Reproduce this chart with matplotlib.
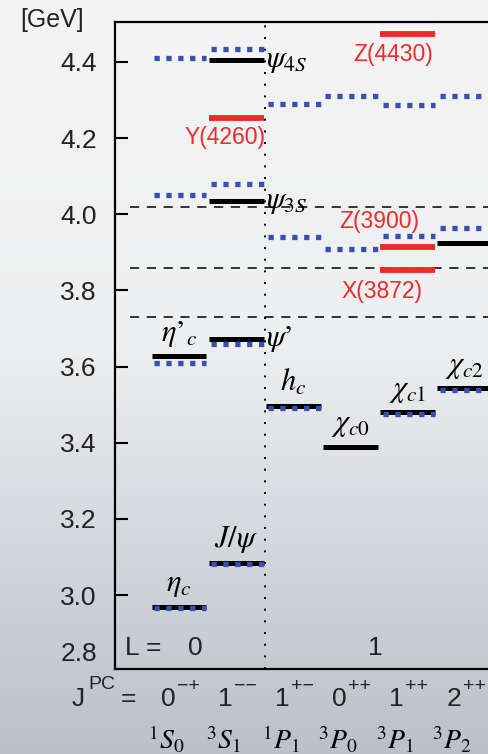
import numpy as np
import matplotlib
matplotlib.use("Agg")
import matplotlib.pyplot as plt
from matplotlib.colors import LinearSegmentedColormap

plt.rcParams['font.family'] = ['Liberation Sans', 'DejaVu Sans']
plt.rcParams['mathtext.fontset'] = 'stix'

# columns: 1S0, 3S1, 1P1, 3P0, 3P1, 3P2
jpc_base = ["0", "1", "1", "0", "1", "2"]
jpc_sup = ["\u2212+", "\u2212\u2212", "+\u2212", "++", "++", "++"]
spec = [r"${}^1S_0$", r"${}^3S_1$", r"${}^1P_1$", r"${}^3P_0$", r"${}^3P_1$", r"${}^3P_2$"]

# measured states (black)
exp_col = [0, 0, 1, 1, 1, 1, 2, 3, 4, 5, 5]
exp_mass = [2.970, 3.627, 3.085, 3.672, 4.035, 4.404, 3.497, 3.389, 3.480, 3.543, 3.924]

# model predictions (blue)
th_col = [0, 0, 0, 0, 1, 1, 1, 1, 2, 2, 2, 3, 3, 4, 4, 4, 5, 5, 5]
th_mass = [2.966, 3.609, 4.051, 4.410, 3.081, 3.660, 4.079, 4.435,
           3.492, 3.941, 4.290, 3.908, 4.311, 3.476, 3.942, 4.287, 3.538, 3.964, 4.311]

# exotic states (red)
xyz_col = [1, 4, 4, 4]
xyz_mass = [4.253, 3.855, 3.915, 4.474]
xyz_name = ["Y(4260)", "X(3872)", "Z(3900)", "Z(4430)"]

# open-charm thresholds
thresholds = [3.730, 3.860, 4.020]

# state names
names = [r"$\eta_c$", r"$\eta\mathrm{’}_c$", r"$J/\psi$", r"$h_c$", r"$\chi_{c0}$", r"$\chi_{c1}$", r"$\chi_{c2}$"]
name_col = [0, 0, 1, 2, 3, 4, 5]
name_mass = [2.970, 3.627, 3.085, 3.497, 3.389, 3.480, 3.543]
psi_names = [r"$\psi\mathrm{’}$", r"$\psi_{3S}$", r"$\psi_{4S}$"]
psi_mass = [3.672, 4.035, 4.404]

yticks = [3.0, 3.2, 3.4, 3.6, 3.8, 4.0, 4.2, 4.4]

INK = "#222222"
RED = "#ee2a2a"
BLUE = "#3a50b0"

fig = plt.figure(figsize=(4.89, 7.54), dpi=100)

# background gradient
bg = fig.add_axes([0, 0, 1, 1], zorder=-10)
cmap = LinearSegmentedColormap.from_list(
    "bg", [(0, "#bbc0c9"), (0.3, "#d6d9de"), (0.55, "#eeeff0"), (1, "#f4f4f4")])
grad = np.linspace(0, 1, 256).reshape(-1, 1)
bg.imshow(grad, aspect="auto", cmap=cmap, origin="lower", extent=[0, 1, 0, 1])
bg.axis("off")

ax = fig.add_axes([115 / 489, 85 / 754, 407 / 489, 647 / 754])
ax.patch.set_alpha(0)
ax.set_xlim(-1.119, 6.0)
ax.set_ylim(2.806, 4.505)

hw = 0.48
for c, m in zip(exp_col, exp_mass):
    ax.plot([c - hw, c + hw], [m, m], color="black", lw=3.6, solid_capstyle="butt", zorder=3)
for c, m in zip(th_col, th_mass):
    ax.plot([c - hw + 0.04, c + hw], [m, m], color=BLUE, lw=3.8,
            dashes=[1, 1.25], dash_capstyle="butt", zorder=4)

# label placement for the exotic states: (dx, dy) from the level
label_off = {"Y(4260)": (-0.2, -0.052), "X(3872)": (-0.45, -0.058),
             "Z(3900)": (-0.5, 0.065), "Z(4430)": (-0.25, -0.055)}
for c, m, n in zip(xyz_col, xyz_mass, xyz_name):
    ax.plot([c - hw, c + hw], [m, m], color=RED, lw=4.2, solid_capstyle="butt", zorder=3)
    dx, dy = label_off[n]
    ax.text(c + dx, m + dy, n, color=RED, fontsize=16.5, ha="center", va="center", zorder=5)

for t in thresholds:
    ax.plot([-0.85, 6.0], [t, t], color="black", lw=1.1, dashes=[6, 5], zorder=2)

ax.axvline(1.5, color="black", lw=1.4, dashes=[1, 5], zorder=2)

for n, c, m in zip(names, name_col, name_mass):
    ax.text(c, m + 0.02, n, fontsize=22, ha="center", va="bottom", zorder=5)
for n, m in zip(psi_names, psi_mass):
    ax.text(1.52, m, n, fontsize=22, ha="left", va="center", zorder=5)

ax.text(-0.95, 2.86, "L =", fontsize=19, color=INK, va="center")
ax.text(0.28, 2.86, "0", fontsize=19, color=INK, va="center", ha="center")
ax.text(3.44, 2.86, "1", fontsize=19, color=INK, va="center", ha="center")

ax.set_yticks(yticks)
ax.set_yticklabels([f"{v:.1f}" for v in yticks])
ax.set_xticks([])
ax.tick_params(axis="y", direction="in", length=9.5, width=1.5, pad=13,
               labelsize=19, labelcolor=INK)
for s in ["left", "top", "bottom", "right"]:
    ax.spines[s].set_linewidth(1.6)
ax.text(-1.43, 2.845, "2.8", fontsize=19, color=INK, ha="right", va="center", clip_on=False)
ax.text(-2.22, 4.51, "[GeV]", fontsize=18, color=INK, ha="center", va="center", clip_on=False)

# quantum numbers under the axis
jrow = 2.728
ax.text(-1.64, jrow, "J", fontsize=19, color=INK, ha="right", va="center", clip_on=False)
ax.text(-1.58, jrow + 0.038, "PC", fontsize=14, color=INK, ha="left", va="center", clip_on=False)
ax.text(-0.89, jrow, "=", fontsize=19, color=INK, ha="center", va="center", clip_on=False)
for i in range(6):
    ax.text(i - 0.19, jrow, jpc_base[i], fontsize=19, color=INK, ha="center", va="center", clip_on=False)
    ax.text(i - 0.04, jrow + 0.032, jpc_sup[i], fontsize=14, color=INK, ha="left", va="center", clip_on=False)
    ax.text(i - 0.22, 2.62, spec[i], fontsize=20, ha="center", va="center", clip_on=False)

fig.savefig("out.png", dpi=100)
